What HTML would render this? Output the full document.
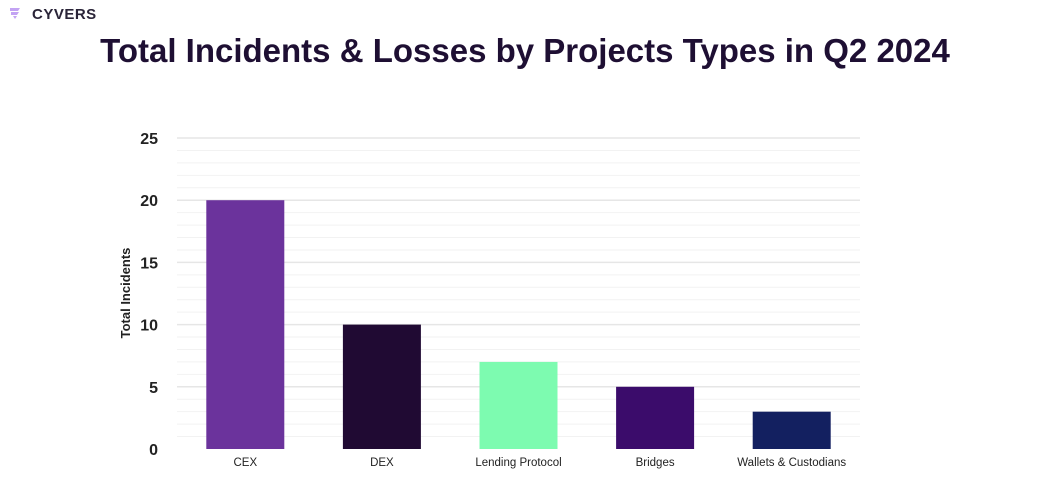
<!DOCTYPE html>
<html><head><meta charset="utf-8"><style>
body{margin:0;width:1051px;height:496px;background:#fff;overflow:hidden;font-family:"Liberation Sans",sans-serif}
</style></head><body>
<svg width="1051" height="496">
<g>
<path d="M10 8 h10 l-2 3 h-8z M11 12 h8 l-2 3 h-6z M13 16 h4 l-2 3z" fill="#b48cf0" opacity="0.8"/>
<text x="32" y="19" font-size="15" font-weight="bold" fill="#2a2438" letter-spacing="0.5">CYVERS</text>
</g>
<text x="525" y="62" text-anchor="middle" font-size="33" font-weight="bold" fill="#1e0f33">Total Incidents &amp; Losses by Projects Types in Q2 2024</text>
<g id="grid"></g><g id="bars"></g><g id="axes"></g>
<text transform="translate(130,293) rotate(-90)" text-anchor="middle" font-size="13" font-weight="bold" fill="#222">Total Incidents</text>
</svg>
<script>
const categories=["CEX","DEX","Lending Protocol","Bridges","Wallets & Custodians"];
const values=[20,10,7,5,3];
const colors=["#6b339c","#200a33","#7dfbb0","#3b0c6b","#132060"];
const yTicks=[0,5,10,15,20,25];
const ns="http://www.w3.org/2000/svg";
const x0=177,x1=860,y0=449,y1=138,yMax=25;
const y=v=>y0-(y0-y1)*v/yMax;
const band=(x1-x0)/categories.length;
const grid=document.getElementById('grid'),bars=document.getElementById('bars'),axes=document.getElementById('axes');
function mk(t,a,p){const e=document.createElementNS(ns,t);for(const k in a)e.setAttribute(k,a[k]);p.appendChild(e);return e;}
for(let v=1;v<=yMax;v++){const l=mk('line',{x1:x0,x2:x1,y1:y(v),y2:y(v),stroke:v%5?'#f2f2f2':'#e6e6e6','stroke-width':v%5?1:1.5},grid);

}
yTicks.forEach(v=>{const t=mk('text',{x:158,y:y(v)+6,'text-anchor':'end','font-size':16,'font-weight':'bold',fill:'#222'},axes);t.textContent=v;

});
categories.forEach((c,i)=>{const cx=x0+band*(i+0.5);
const r=mk('rect',{x:cx-39,y:y(values[i]),width:78,height:y0-y(values[i]),fill:colors[i]},bars);


const t=mk('text',{x:cx,y:466,'text-anchor':'middle','font-size':11.5,fill:'#222'},axes);t.textContent=c;

});
</script>
</body></html>
